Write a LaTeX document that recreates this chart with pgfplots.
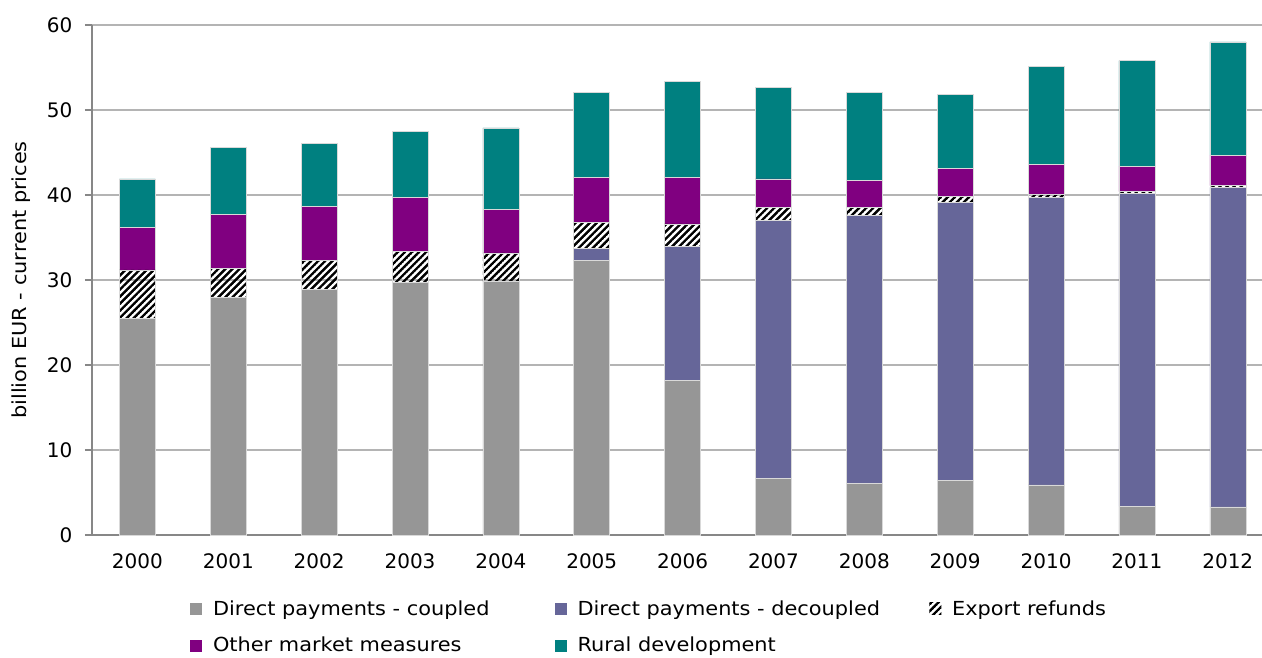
\documentclass[border=0pt]{standalone}
\usepackage{pgfplots}
\pgfplotsset{compat=1.18}
\usepackage{pgfplotstable}
\usepackage{fontspec}
\setmainfont{DejaVu Sans}
\newfontfamily\widefont[FakeStretch=1.08]{DejaVu Sans}
\usetikzlibrary{patterns.meta}
\definecolor{cpl}{HTML}{969696}
\definecolor{dcp}{HTML}{666699}
\definecolor{omm}{HTML}{800080}
\definecolor{rur}{HTML}{008080}
\definecolor{axgray}{HTML}{878787}
\definecolor{grgray}{HTML}{B4B4B4}
\tikzdeclarepattern{
  name=hatchne,
  type=uncolored,
  bounding box={(-0.1pt,-1pt) and (3.85pt,1pt)},
  tile size={(3.75pt,3.75pt)},
  tile transformation={rotate=45},
  code={\pgfsetlinewidth{1.8pt}\pgfpathmoveto{\pgfpoint{-0.1pt}{0pt}}\pgfpathlineto{\pgfpoint{3.85pt}{0pt}}\pgfusepath{stroke}}
}
\pgfplotstableread{
x coupled decoupled export other rural
0 25.5 0 5.7 5.0 5.7
1 28.0 0 3.4 6.3 7.9
2 28.9 0 3.4 6.4 7.4
3 29.7 0 3.7 6.3 7.8
4 29.8 0 3.4 5.1 9.6
5 32.3 1.4 3.1 5.3 10.0
6 18.2 15.8 2.6 5.5 11.3
7 6.7 30.3 1.5 3.4 10.8
8 6.1 31.5 0.9 3.2 10.4
9 6.4 32.7 0.7 3.3 8.7
10 5.9 33.8 0.4 3.5 11.5
11 3.4 36.8 0.2 3.0 12.4
12 3.3 37.6 0.2 3.6 13.3
}\cap
\begin{document}
\begin{tikzpicture}
\path[use as bounding box] (-69pt,-91.5pt) rectangle (877.5pt,401.25pt);
\begin{axis}[
  at={(0,0)}, anchor=south west,
  scale only axis,
  width=885.9pt, height=382.5pt,
  ybar stacked, bar width=27pt,
  xmin=-0.5, xmax=12.5, ymin=0, ymax=60,
  axis x line*=bottom, axis y line*=left,
  axis line style={axgray, line width=0.8pt},
  xtick={0,...,12},
  xticklabels={2000,2001,2002,2003,2004,2005,2006,2007,2008,2009,2010,2011,2012},
  minor xtick={-0.5,0.5,...,12.5},
  ytick={0,10,...,60},
  tick align=outside,
  major tick length=5.25pt, minor tick length=5.25pt,
  xtick style={draw=none},
  minor x tick style={axgray, line width=0.8pt},
  ytick style={axgray, line width=0.8pt},
  ymajorgrids, major grid style={grgray, line width=0.9pt},
  /pgf/number format/assume math mode=true,
  ticklabel style={font=\fontsize{15pt}{18pt}\selectfont},
  yticklabel style={xshift=-6pt},
  xticklabel style={yshift=-5pt},
  ylabel={billion EUR - current prices},
  ylabel style={font=\widefont\fontsize{14.5pt}{17pt}\selectfont, yshift=5.5pt},
  legend columns=3,
  legend cell align=left,
  legend style={draw=none, font=\widefont\fontsize{14.5pt}{17pt}\selectfont,
    at={(axis description cs:0.472,0)}, anchor=north, yshift=-45pt,
    /tikz/every odd column/.append style={column sep=6pt},
    /tikz/column 2/.style={column sep=47pt},
    /tikz/column 4/.style={column sep=35pt},
    row sep=11pt},
  legend image code/.code={\draw[#1, draw=none] (0pt,-4.5pt) rectangle (9pt,4.5pt);},
  every axis plot/.append style={draw=white!85!black, line width=0.4pt},
]
\addplot[fill=cpl] table[x=x,y=coupled]{\cap};
\addlegendentry{Direct payments - coupled}
\addplot[fill=dcp] table[x=x,y=decoupled]{\cap};
\addlegendentry{Direct payments - decoupled}
\addplot[pattern={hatchne}, pattern color=black] table[x=x,y=export]{\cap};
\addlegendentry{Export refunds}
\addplot[fill=omm] table[x=x,y=other]{\cap};
\addlegendentry{Other market measures}
\addplot[fill=rur] table[x=x,y=rural]{\cap};
\addlegendentry{Rural development}
\end{axis}
\end{tikzpicture}
\end{document}
